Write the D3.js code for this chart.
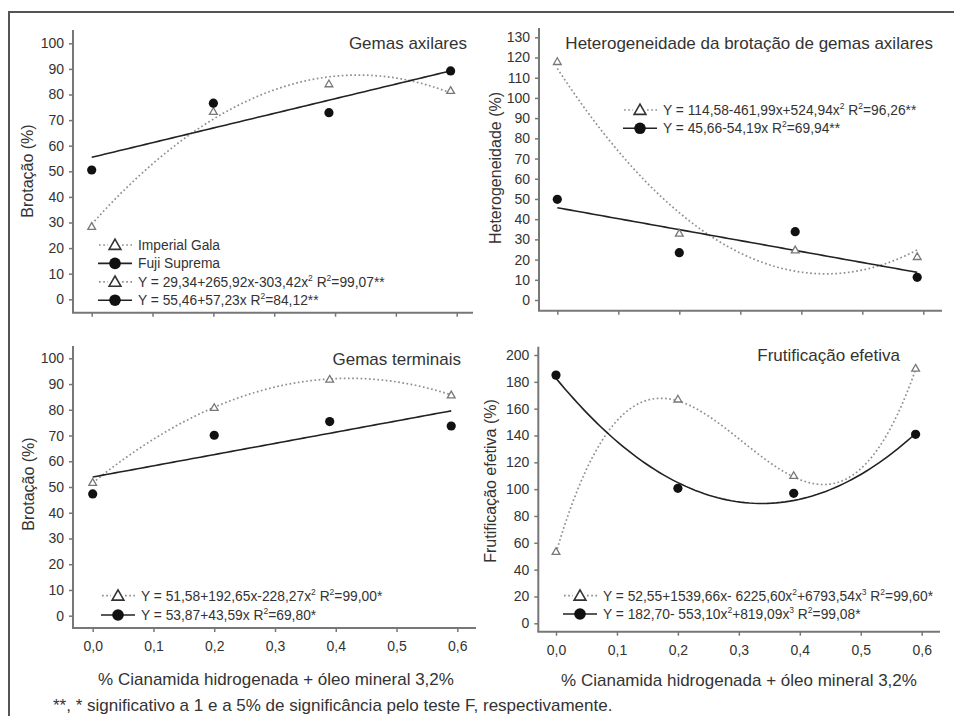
<!DOCTYPE html>
<html>
<head>
<meta charset="utf-8">
<script src="https://cdn.jsdelivr.net/npm/d3@7"></script>
<style>
  html, body { margin: 0; padding: 0; background: #fff; }
  svg { display: block; font-family: "Liberation Sans", Arial, sans-serif; }
  .tick text { fill: #333; font-size: 14px; }
  .tick line { stroke: #777; stroke-width: 1.5; }
</style>
</head>
<body>
<div id="chart"></div>
<script>
const doses = [0, 0.2, 0.39, 0.59];
const xTicks = [0, 0.1, 0.2, 0.3, 0.4, 0.5, 0.6];

const galaAxilares = [28.4, 73.3, 84.1, 81.5];
const fujiAxilares = [50.5, 76.6, 72.9, 89.2];
const galaHeterog = [117.9, 33.0, 24.7, 21.4];
const fujiHeterog = [49.8, 23.4, 33.8, 11.2];
const galaTerminais = [51.7, 80.8, 91.8, 85.7];
const fujiTerminais = [47.3, 70.1, 75.4, 73.7];
const galaFrutif = [53.4, 167.0, 110.0, 190.0];
const fujiFrutif = [185.0, 100.6, 96.9, 140.9];

// regression coefficients (c0 + c1 x + c2 x^2 + ...)
const galaAxilaresFit = [29.34, 265.92, -303.42];
const fujiAxilaresFit = [55.46, 57.23];
const galaHeterogFit = [114.58, -461.99, 524.94];
const fujiHeterogFit = [45.66, -54.19];
const galaTerminaisFit = [51.58, 192.65, -228.27];
const fujiTerminaisFit = [53.87, 43.59];
const galaFrutifFit = [52.55, 1539.66, -6225.60, 6793.54];
const fujiFrutifFit = [182.70, -553.10, 819.09];

const legendAxilares = [
  ["gala", "Imperial Gala"],
  ["fuji", "Fuji Suprema"],
  ["gala", "Y = 29,34+265,92x-303,42x^2 R^2=99,07**"],
  ["fuji", "Y = 55,46+57,23x R^2=84,12**"]
];
const legendHeterog = [
  ["gala", "Y = 114,58-461,99x+524,94x^2 R^2=96,26**"],
  ["fuji", "Y = 45,66-54,19x R^2=69,94**"]
];
const legendTerminais = [
  ["gala", "Y = 51,58+192,65x-228,27x^2 R^2=99,00*"],
  ["fuji", "Y = 53,87+43,59x R^2=69,80*"]
];
const legendFrutif = [
  ["gala", "Y = 52,55+1539,66x- 6225,60x^2+6793,54x^3 R^2=99,60*"],
  ["fuji", "Y = 182,70- 553,10x^2+819,09x^3 R^2=99,08*"]
];

const W = 954, H = 716;
const svg = d3.select("#chart").append("svg").attr("width", W).attr("height", H);

svg.append("rect")
  .attr("x", 9).attr("y", 12).attr("width", 960).attr("height", 720)
  .attr("fill", "none").attr("stroke", "#555").attr("stroke-width", 2);

const panels = [
  {
    title: "Gemas axilares", titleX: 467, titleY: 49, ytitle: "Brotação (%)", ytX: 27, ytY: 171,
    x0: 91.7, x6: 456.7, y0: 299.3, yTop: 43.3, yMax: 100, yStep: 10,
    axisX: 73, axisY: 312.7, axisTop: 30, axisRight: 473, xLabels: false,
    gala: galaAxilares, fuji: fujiAxilares, galaFit: galaAxilaresFit, fujiFit: fujiAxilaresFit,
    legend: legendAxilares, legX: 115, legY: 245, legStep: 18.4
  },
  {
    title: "Heterogeneidade da brotação de gemas axilares", titleX: 933, titleY: 48.5,
    ytitle: "Heterogeneidade (%)", ytX: 495, ytY: 168,
    x0: 557.3, x6: 923.3, y0: 300, yTop: 37.3, yMax: 130, yStep: 10,
    axisX: 539, axisY: 310.7, axisTop: 28, axisRight: 942, xLabels: false,
    gala: galaHeterog, fuji: fujiHeterog, galaFit: galaHeterogFit, fujiFit: fujiHeterogFit,
    legend: legendHeterog, legX: 640, legY: 110, legStep: 18.3
  },
  {
    title: "Gemas terminais", titleX: 461, titleY: 365, ytitle: "Brotação (%)", ytX: 28, ytY: 484,
    x0: 92.7, x6: 457.3, y0: 615.7, yTop: 358.3, yMax: 100, yStep: 10,
    axisX: 73, axisY: 628, axisTop: 346, axisRight: 476, xLabels: true,
    gala: galaTerminais, fuji: fujiTerminais, galaFit: galaTerminaisFit, fujiFit: fujiTerminaisFit,
    legend: legendTerminais, legX: 118, legY: 595.7, legStep: 19.3
  },
  {
    title: "Frutificação efetiva", titleX: 900, titleY: 361, ytitle: "Frutificação efetiva (%)", ytX: 490, ytY: 481,
    x0: 556, x6: 921.7, y0: 623.3, yTop: 355, yMax: 200, yStep: 20,
    axisX: 538.3, axisY: 631.7, axisTop: 346.7, axisRight: 940, xLabels: true,
    gala: galaFrutif, fuji: fujiFrutif, galaFit: galaFrutifFit, fujiFit: fujiFrutifFit,
    legend: legendFrutif, legX: 580, legY: 595.7, legStep: 18.3
  }
];

const fmtX = (d) => d3.format(".1f")(d).replace(".", ",");
const poly = (c) => (x) => c.reduce((s, k, i) => s + k * Math.pow(x, i), 0);
const triangle = d3.symbol().type(d3.symbolTriangle);

function styleGala(sel) {
  return sel.attr("fill", "none").attr("stroke", "#8f8f8f")
    .attr("stroke-width", 1.7).attr("stroke-dasharray", "1.7,2.5");
}

// "^2" in a label becomes a superscript
function richText(sel, str) {
  let shift = 0;
  str.split(/(\^\d)/).forEach((part) => {
    if (!part) return;
    if (part[0] === "^") {
      sel.append("tspan").attr("font-size", "8.5px").attr("dy", -6).text(part[1]);
      shift = 6;
    } else {
      sel.append("tspan").attr("dy", shift).text(part);
      shift = 0;
    }
  });
}

panels.forEach((p) => {
  const g = svg.append("g");
  const x = d3.scaleLinear().domain([0, 0.6]).range([p.x0, p.x6]);
  const y = d3.scaleLinear().domain([0, p.yMax]).range([p.y0, p.yTop]);

  // axes
  const yAxis = g.append("g").attr("transform", `translate(${p.axisX},0)`)
    .call(d3.axisLeft(y).tickValues(d3.range(0, p.yMax + 1, p.yStep)).tickSize(4).tickPadding(5))
    .call((a) => a.select(".domain").remove());
  yAxis.selectAll("text").attr("font-family", null);

  const xAxis = g.append("g").attr("transform", `translate(0,${p.axisY})`)
    .call(d3.axisBottom(x).tickValues(xTicks).tickSize(4).tickPadding(9).tickFormat(p.xLabels ? fmtX : () => ""))
    .call((a) => a.select(".domain").remove());
  xAxis.selectAll("text").attr("font-family", null);

  g.append("line").attr("x1", p.axisX).attr("x2", p.axisX).attr("y1", p.axisTop).attr("y2", p.axisY)
    .attr("stroke", "#777").attr("stroke-width", 2);
  g.append("line").attr("x1", p.axisX - 1).attr("x2", p.axisRight).attr("y1", p.axisY).attr("y2", p.axisY)
    .attr("stroke", "#777").attr("stroke-width", 2);

  // fitted curves
  const xs = d3.range(0, 0.5901, 0.59 / 80);
  const line = d3.line().x((d) => x(d[0])).y((d) => y(d[1]));
  const fg = poly(p.galaFit), ff = poly(p.fujiFit);
  styleGala(g.append("path").attr("d", line(xs.map((v) => [v, fg(v)]))));
  g.append("path").attr("d", line(xs.map((v) => [v, ff(v)])))
    .attr("fill", "none").attr("stroke", "#222").attr("stroke-width", 1.6);

  // observed points
  g.selectAll(".tri").data(doses).join("path")
    .attr("transform", (d, i) => `translate(${x(d)},${y(p.gala[i]) + 0.5})`)
    .attr("d", triangle.size(26))
    .attr("fill", "#fff").attr("stroke", "#777").attr("stroke-width", 1.3);
  g.selectAll(".dot").data(doses).join("circle")
    .attr("cx", (d) => x(d)).attr("cy", (d, i) => y(p.fuji[i]))
    .attr("r", 4.6).attr("fill", "#111");

  // titles
  g.append("text").attr("x", p.titleX).attr("y", p.titleY).attr("text-anchor", "end")
    .attr("font-size", "17px").attr("fill", "#333").text(p.title);
  g.append("text").attr("transform", `translate(${p.ytX},${p.ytY}) rotate(-90)`)
    .attr("text-anchor", "middle").attr("dy", "0.35em")
    .attr("font-size", "16px").attr("fill", "#333").text(p.ytitle);

  // legend
  p.legend.forEach(([kind, label], i) => {
    const cy = p.legY + i * p.legStep;
    const lg = g.append("g").attr("transform", `translate(${p.legX},${cy})`);
    if (kind === "gala") {
      styleGala(lg.append("line").attr("x1", -16).attr("x2", -7));
      styleGala(lg.append("line").attr("x1", 7).attr("x2", 17));
      lg.append("path").attr("d", triangle.size(60)).attr("transform", "translate(0,1)")
        .attr("fill", "#fff").attr("stroke", "#333").attr("stroke-width", 1.6);
    } else {
      lg.append("line").attr("x1", -17).attr("x2", 17).attr("stroke", "#222").attr("stroke-width", 1.6);
      lg.append("circle").attr("r", 5.8).attr("fill", "#111");
    }
    const t = lg.append("text").attr("x", 23).attr("y", 5)
      .attr("font-size", "13.8px").attr("fill", "#333");
    richText(t, label);
  });
});

// x titles and footnote
const xTitle = "% Cianamida hidrogenada + óleo mineral 3,2%";
svg.append("text").attr("x", 276).attr("y", 685).attr("text-anchor", "middle")
  .attr("font-size", "17px").attr("fill", "#333").text(xTitle);
svg.append("text").attr("x", 739).attr("y", 686).attr("text-anchor", "middle")
  .attr("font-size", "17px").attr("fill", "#333").text(xTitle);
svg.append("text").attr("x", 53).attr("y", 711)
  .attr("font-size", "17px").attr("fill", "#333")
  .text("**, * significativo a 1 e a 5% de significância pelo teste F, respectivamente.");
</script>
</body>
</html>
